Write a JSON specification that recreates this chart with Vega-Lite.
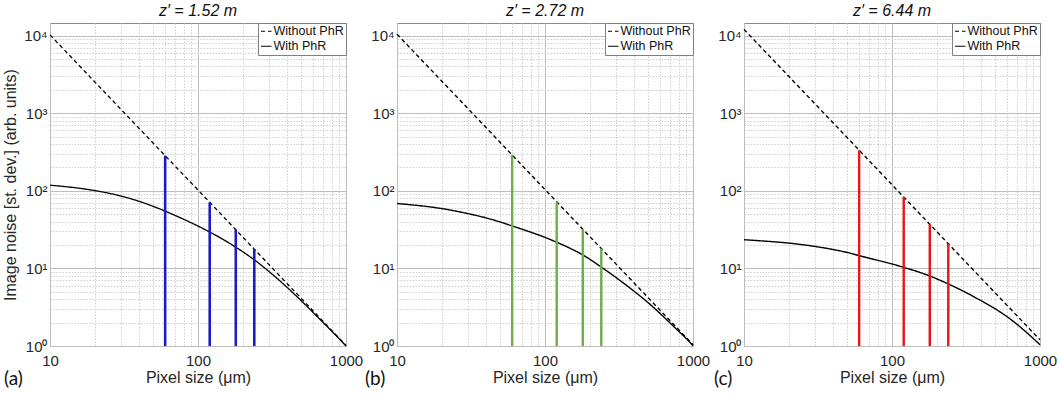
{
  "$schema": "https://vega.github.io/schema/vega-lite/v6.json",
  "padding": {"left": 2, "top": 2, "right": 0, "bottom": 0},
  "background": "white",
  "config": {
    "font": "Liberation Sans",
    "view": {"stroke": "#8a8a8a", "strokeWidth": 1},
    "axis": {"domain": false, "ticks": false, "labelFont": "Liberation Sans", "titleFont": "Liberation Sans", "labelFontSize": 15, "labelColor": "#262626", "titleFontSize": 16, "titleFontWeight": "normal", "titleColor": "#262626", "labelOverlap": false, "gridOpacity": 1},
    "legend": {"labelFont": "Liberation Sans"},
    "title": {"font": "Liberation Sans", "fontSize": 16, "fontWeight": "normal", "fontStyle": "italic", "color": "#111111", "offset": 4}
  },
  "datasets": {
    "curves": [
      {"panel": "a", "series": "Without PhR", "px": 10, "noise": 10200},
      {"panel": "a", "series": "Without PhR", "px": 60, "noise": 283},
      {"panel": "a", "series": "Without PhR", "px": 120, "noise": 71},
      {"panel": "a", "series": "Without PhR", "px": 180, "noise": 31.5},
      {"panel": "a", "series": "Without PhR", "px": 240, "noise": 17.7},
      {"panel": "a", "series": "Without PhR", "px": 1000, "noise": 1.02},
      {"panel": "a", "series": "With PhR", "px": 10, "noise": 118},
      {"panel": "a", "series": "With PhR", "px": 15, "noise": 109},
      {"panel": "a", "series": "With PhR", "px": 20, "noise": 100.7},
      {"panel": "a", "series": "With PhR", "px": 30, "noise": 85.7},
      {"panel": "a", "series": "With PhR", "px": 40, "noise": 73.1},
      {"panel": "a", "series": "With PhR", "px": 50, "noise": 62.8},
      {"panel": "a", "series": "With PhR", "px": 60, "noise": 54.6},
      {"panel": "a", "series": "With PhR", "px": 80, "noise": 42.9},
      {"panel": "a", "series": "With PhR", "px": 100, "noise": 35.1},
      {"panel": "a", "series": "With PhR", "px": 120, "noise": 29.4},
      {"panel": "a", "series": "With PhR", "px": 150, "noise": 23.2},
      {"panel": "a", "series": "With PhR", "px": 180, "noise": 18.75},
      {"panel": "a", "series": "With PhR", "px": 240, "noise": 12.9},
      {"panel": "a", "series": "With PhR", "px": 300, "noise": 9.2},
      {"panel": "a", "series": "With PhR", "px": 400, "noise": 5.69},
      {"panel": "a", "series": "With PhR", "px": 500, "noise": 3.8},
      {"panel": "a", "series": "With PhR", "px": 600, "noise": 2.7},
      {"panel": "a", "series": "With PhR", "px": 700, "noise": 2.01},
      {"panel": "a", "series": "With PhR", "px": 800, "noise": 1.555},
      {"panel": "a", "series": "With PhR", "px": 900, "noise": 1.237},
      {"panel": "a", "series": "With PhR", "px": 1000, "noise": 1.0},
      {"panel": "b", "series": "Without PhR", "px": 10, "noise": 10400},
      {"panel": "b", "series": "Without PhR", "px": 60, "noise": 289},
      {"panel": "b", "series": "Without PhR", "px": 120, "noise": 72},
      {"panel": "b", "series": "Without PhR", "px": 180, "noise": 32},
      {"panel": "b", "series": "Without PhR", "px": 240, "noise": 18},
      {"panel": "b", "series": "Without PhR", "px": 1000, "noise": 1.04},
      {"panel": "b", "series": "With PhR", "px": 10, "noise": 68.5},
      {"panel": "b", "series": "With PhR", "px": 15, "noise": 63.5},
      {"panel": "b", "series": "With PhR", "px": 20, "noise": 59},
      {"panel": "b", "series": "With PhR", "px": 30, "noise": 50.9},
      {"panel": "b", "series": "With PhR", "px": 40, "noise": 44.7},
      {"panel": "b", "series": "With PhR", "px": 50, "noise": 39.5},
      {"panel": "b", "series": "With PhR", "px": 60, "noise": 35.2},
      {"panel": "b", "series": "With PhR", "px": 80, "noise": 29.3},
      {"panel": "b", "series": "With PhR", "px": 100, "noise": 25.1},
      {"panel": "b", "series": "With PhR", "px": 120, "noise": 21.7},
      {"panel": "b", "series": "With PhR", "px": 150, "noise": 17.9},
      {"panel": "b", "series": "With PhR", "px": 180, "noise": 14.9},
      {"panel": "b", "series": "With PhR", "px": 240, "noise": 10.4},
      {"panel": "b", "series": "With PhR", "px": 300, "noise": 7.69},
      {"panel": "b", "series": "With PhR", "px": 400, "noise": 5.07},
      {"panel": "b", "series": "With PhR", "px": 500, "noise": 3.59},
      {"panel": "b", "series": "With PhR", "px": 600, "noise": 2.62},
      {"panel": "b", "series": "With PhR", "px": 700, "noise": 1.98},
      {"panel": "b", "series": "With PhR", "px": 800, "noise": 1.55},
      {"panel": "b", "series": "With PhR", "px": 900, "noise": 1.25},
      {"panel": "b", "series": "With PhR", "px": 1000, "noise": 1.01},
      {"panel": "c", "series": "Without PhR", "px": 10, "noise": 12000},
      {"panel": "c", "series": "Without PhR", "px": 60, "noise": 333},
      {"panel": "c", "series": "Without PhR", "px": 120, "noise": 83},
      {"panel": "c", "series": "Without PhR", "px": 180, "noise": 37},
      {"panel": "c", "series": "Without PhR", "px": 240, "noise": 20.8},
      {"panel": "c", "series": "Without PhR", "px": 1000, "noise": 1.2},
      {"panel": "c", "series": "With PhR", "px": 10, "noise": 23.4},
      {"panel": "c", "series": "With PhR", "px": 15, "noise": 22.2},
      {"panel": "c", "series": "With PhR", "px": 20, "noise": 21.2},
      {"panel": "c", "series": "With PhR", "px": 30, "noise": 19.2},
      {"panel": "c", "series": "With PhR", "px": 40, "noise": 17.5},
      {"panel": "c", "series": "With PhR", "px": 50, "noise": 16},
      {"panel": "c", "series": "With PhR", "px": 60, "noise": 14.6},
      {"panel": "c", "series": "With PhR", "px": 80, "noise": 12.7},
      {"panel": "c", "series": "With PhR", "px": 100, "noise": 11.4},
      {"panel": "c", "series": "With PhR", "px": 120, "noise": 10.3},
      {"panel": "c", "series": "With PhR", "px": 150, "noise": 9.04},
      {"panel": "c", "series": "With PhR", "px": 180, "noise": 7.98},
      {"panel": "c", "series": "With PhR", "px": 240, "noise": 6.3},
      {"panel": "c", "series": "With PhR", "px": 300, "noise": 5.14},
      {"panel": "c", "series": "With PhR", "px": 400, "noise": 3.83},
      {"panel": "c", "series": "With PhR", "px": 500, "noise": 3.0},
      {"panel": "c", "series": "With PhR", "px": 600, "noise": 2.38},
      {"panel": "c", "series": "With PhR", "px": 700, "noise": 1.9},
      {"panel": "c", "series": "With PhR", "px": 800, "noise": 1.53},
      {"panel": "c", "series": "With PhR", "px": 900, "noise": 1.25},
      {"panel": "c", "series": "With PhR", "px": 1000, "noise": 1.04}
    ],
    "bars": [
      {"panel": "a", "px": 60, "noise": 283},
      {"panel": "a", "px": 120, "noise": 71},
      {"panel": "a", "px": 180, "noise": 31.5},
      {"panel": "a", "px": 240, "noise": 17.7},
      {"panel": "b", "px": 60, "noise": 289},
      {"panel": "b", "px": 120, "noise": 72},
      {"panel": "b", "px": 180, "noise": 32},
      {"panel": "b", "px": 240, "noise": 18},
      {"panel": "c", "px": 60, "noise": 333},
      {"panel": "c", "px": 120, "noise": 83},
      {"panel": "c", "px": 180, "noise": 37},
      {"panel": "c", "px": 240, "noise": 20.8}
    ]
  },
  "spacing": 51,
  "bounds": "flush",
  "resolve": {
    "scale": {"x": "independent", "y": "independent", "strokeDash": "independent"},
    "axis": {"x": "independent", "y": "independent"},
    "legend": {"strokeDash": "independent"}
  },
  "hconcat": [
    {
      "width": 296, "height": 323,
      "title": {"text": "z′ = 1.52 m"},
      "layer": [
        {
          "data": {"name": "curves"},
          "transform": [{"filter": "datum.panel == 'a'"}],
          "mark": {"type": "line", "color": "black", "strokeWidth": 1.3, "interpolate": "monotone"},
          "encoding": {
            "x": {"field": "px", "type": "quantitative", "scale": {"type": "log", "domain": [10, 1000], "nice": false},
              "axis": {"title": "Pixel size (μm)", "values": [10,20,30,40,50,60,70,80,90,100,200,300,400,500,600,700,800,900,1000],
                "labelExpr": "(datum.value==10||datum.value==100||datum.value==1000) ? ''+datum.value : ''",
                "labelFlush": false, "labelPadding": 7, "titlePadding": 1,
                "gridColor": {"condition": {"test": "datum.value==10||datum.value==100||datum.value==1000", "value": "#bdbdbd"}, "value": "#cfcfcf"},
                "gridDash": {"condition": {"test": "datum.value==10||datum.value==100||datum.value==1000", "value": []}, "value": [1.5, 1.5]}}},
            "y": {"field": "noise", "type": "quantitative", "scale": {"type": "log", "domain": [1, 14500], "nice": false},
              "axis": {"title": "Image noise [st. dev.] (arb. units)", "values": [1,2,3,4,5,6,7,8,9,10,20,30,40,50,60,70,80,90,100,200,300,400,500,600,700,800,900,1000,2000,3000,4000,5000,6000,7000,8000,9000,10000],
                "labelExpr": "datum.value==1?'10⁰':datum.value==10?'10¹':datum.value==100?'10²':datum.value==1000?'10³':datum.value==10000?'10⁴':''",
                "labelPadding": 3, "titlePadding": 5,
                "gridColor": {"condition": {"test": "datum.value==1||datum.value==10||datum.value==100||datum.value==1000||datum.value==10000", "value": "#bdbdbd"}, "value": "#cfcfcf"},
                "gridDash": {"condition": {"test": "datum.value==1||datum.value==10||datum.value==100||datum.value==1000||datum.value==10000", "value": []}, "value": [1.5, 1.5]}}},
            "strokeDash": {"field": "series", "type": "nominal", "scale": {"domain": ["Without PhR", "With PhR"], "range": [[4, 3], [1, 0]]},
              "legend": {"title": null, "orient": "top-right", "offset": 0, "padding": 2, "strokeColor": "#7f7f7f", "fillColor": "white", "cornerRadius": 0, "labelFontSize": 12.5, "labelColor": "#111111", "symbolType": "stroke", "symbolSize": 110, "symbolStrokeWidth": 1.2, "symbolStrokeColor": "black", "labelOffset": 1, "rowPadding": 2}}
          }
        },
        {
          "data": {"name": "bars"},
          "transform": [{"filter": "datum.panel == 'a'"}],
          "mark": {"type": "rule", "color": "#1c1cc4", "strokeWidth": 2.6},
          "encoding": {
            "x": {"field": "px", "type": "quantitative"},
            "y": {"field": "noise", "type": "quantitative"},
            "y2": {"datum": 1}
          }
        },
        {
          "data": {"values": [{"label": "(a)"}]},
          "mark": {"type": "text", "align": "left", "baseline": "middle", "dx": -46, "dy": 33, "font": "Lato", "fontSize": 19, "color": "#111111"},
          "encoding": {"x": {"datum": 10}, "y": {"datum": 1}, "text": {"field": "label"}}
        }
      ]
    },
    {
      "width": 296, "height": 323,
      "title": {"text": "z′ = 2.72 m"},
      "layer": [
        {
          "data": {"name": "curves"},
          "transform": [{"filter": "datum.panel == 'b'"}],
          "mark": {"type": "line", "color": "black", "strokeWidth": 1.4, "interpolate": "monotone"},
          "encoding": {
            "x": {"field": "px", "type": "quantitative", "scale": {"type": "log", "domain": [10, 1000], "nice": false},
              "axis": {"title": "Pixel size (μm)", "values": [10,20,30,40,50,60,70,80,90,100,200,300,400,500,600,700,800,900,1000],
                "labelExpr": "(datum.value==10||datum.value==100||datum.value==1000) ? ''+datum.value : ''",
                "labelFlush": false, "labelPadding": 7, "titlePadding": 1,
                "gridColor": {"condition": {"test": "datum.value==10||datum.value==100||datum.value==1000", "value": "#bdbdbd"}, "value": "#cfcfcf"},
                "gridDash": {"condition": {"test": "datum.value==10||datum.value==100||datum.value==1000", "value": []}, "value": [1.5, 1.5]}}},
            "y": {"field": "noise", "type": "quantitative", "scale": {"type": "log", "domain": [1, 14500], "nice": false},
              "axis": {"title": null, "values": [1,2,3,4,5,6,7,8,9,10,20,30,40,50,60,70,80,90,100,200,300,400,500,600,700,800,900,1000,2000,3000,4000,5000,6000,7000,8000,9000,10000],
                "labelExpr": "datum.value==1?'10⁰':datum.value==10?'10¹':datum.value==100?'10²':datum.value==1000?'10³':datum.value==10000?'10⁴':''",
                "labelPadding": 3,
                "gridColor": {"condition": {"test": "datum.value==1||datum.value==10||datum.value==100||datum.value==1000||datum.value==10000", "value": "#bdbdbd"}, "value": "#cfcfcf"},
                "gridDash": {"condition": {"test": "datum.value==1||datum.value==10||datum.value==100||datum.value==1000||datum.value==10000", "value": []}, "value": [1.5, 1.5]}}},
            "strokeDash": {"field": "series", "type": "nominal", "scale": {"domain": ["Without PhR", "With PhR"], "range": [[4, 3], [1, 0]]},
              "legend": {"title": null, "orient": "top-right", "offset": 0, "padding": 2, "strokeColor": "#7f7f7f", "fillColor": "white", "cornerRadius": 0, "labelFontSize": 12.5, "labelColor": "#111111", "symbolType": "stroke", "symbolSize": 110, "symbolStrokeWidth": 1.2, "symbolStrokeColor": "black", "labelOffset": 1, "rowPadding": 2}}
          }
        },
        {
          "data": {"name": "bars"},
          "transform": [{"filter": "datum.panel == 'b'"}],
          "mark": {"type": "rule", "color": "#6fae47", "strokeWidth": 2.4},
          "encoding": {
            "x": {"field": "px", "type": "quantitative"},
            "y": {"field": "noise", "type": "quantitative"},
            "y2": {"datum": 1}
          }
        },
        {
          "data": {"values": [{"label": "(b)"}]},
          "mark": {"type": "text", "align": "left", "baseline": "middle", "dx": -32, "dy": 33, "font": "Lato", "fontSize": 19, "color": "#111111"},
          "encoding": {"x": {"datum": 10}, "y": {"datum": 1}, "text": {"field": "label"}}
        }
      ]
    },
    {
      "width": 296, "height": 323,
      "title": {"text": "z′ = 6.44 m"},
      "layer": [
        {
          "data": {"name": "curves"},
          "transform": [{"filter": "datum.panel == 'c'"}],
          "mark": {"type": "line", "color": "black", "strokeWidth": 1.4, "interpolate": "monotone"},
          "encoding": {
            "x": {"field": "px", "type": "quantitative", "scale": {"type": "log", "domain": [10, 1000], "nice": false},
              "axis": {"title": "Pixel size (μm)", "values": [10,20,30,40,50,60,70,80,90,100,200,300,400,500,600,700,800,900,1000],
                "labelExpr": "(datum.value==10||datum.value==100||datum.value==1000) ? ''+datum.value : ''",
                "labelFlush": false, "labelPadding": 7, "titlePadding": 1,
                "gridColor": {"condition": {"test": "datum.value==10||datum.value==100||datum.value==1000", "value": "#bdbdbd"}, "value": "#cfcfcf"},
                "gridDash": {"condition": {"test": "datum.value==10||datum.value==100||datum.value==1000", "value": []}, "value": [1.5, 1.5]}}},
            "y": {"field": "noise", "type": "quantitative", "scale": {"type": "log", "domain": [1, 14500], "nice": false},
              "axis": {"title": null, "values": [1,2,3,4,5,6,7,8,9,10,20,30,40,50,60,70,80,90,100,200,300,400,500,600,700,800,900,1000,2000,3000,4000,5000,6000,7000,8000,9000,10000],
                "labelExpr": "datum.value==1?'10⁰':datum.value==10?'10¹':datum.value==100?'10²':datum.value==1000?'10³':datum.value==10000?'10⁴':''",
                "labelPadding": 3,
                "gridColor": {"condition": {"test": "datum.value==1||datum.value==10||datum.value==100||datum.value==1000||datum.value==10000", "value": "#bdbdbd"}, "value": "#cfcfcf"},
                "gridDash": {"condition": {"test": "datum.value==1||datum.value==10||datum.value==100||datum.value==1000||datum.value==10000", "value": []}, "value": [1.5, 1.5]}}},
            "strokeDash": {"field": "series", "type": "nominal", "scale": {"domain": ["Without PhR", "With PhR"], "range": [[4, 3], [1, 0]]},
              "legend": {"title": null, "orient": "top-right", "offset": 0, "padding": 2, "strokeColor": "#7f7f7f", "fillColor": "white", "cornerRadius": 0, "labelFontSize": 12.5, "labelColor": "#111111", "symbolType": "stroke", "symbolSize": 110, "symbolStrokeWidth": 1.2, "symbolStrokeColor": "black", "labelOffset": 1, "rowPadding": 2}}
          }
        },
        {
          "data": {"name": "bars"},
          "transform": [{"filter": "datum.panel == 'c'"}],
          "mark": {"type": "rule", "color": "#e3161c", "strokeWidth": 2.4},
          "encoding": {
            "x": {"field": "px", "type": "quantitative"},
            "y": {"field": "noise", "type": "quantitative"},
            "y2": {"datum": 1}
          }
        },
        {
          "data": {"values": [{"label": "(c)"}]},
          "mark": {"type": "text", "align": "left", "baseline": "middle", "dx": -30, "dy": 33, "font": "Lato", "fontSize": 19, "color": "#111111"},
          "encoding": {"x": {"datum": 10}, "y": {"datum": 1}, "text": {"field": "label"}}
        }
      ]
    }
  ]
}
